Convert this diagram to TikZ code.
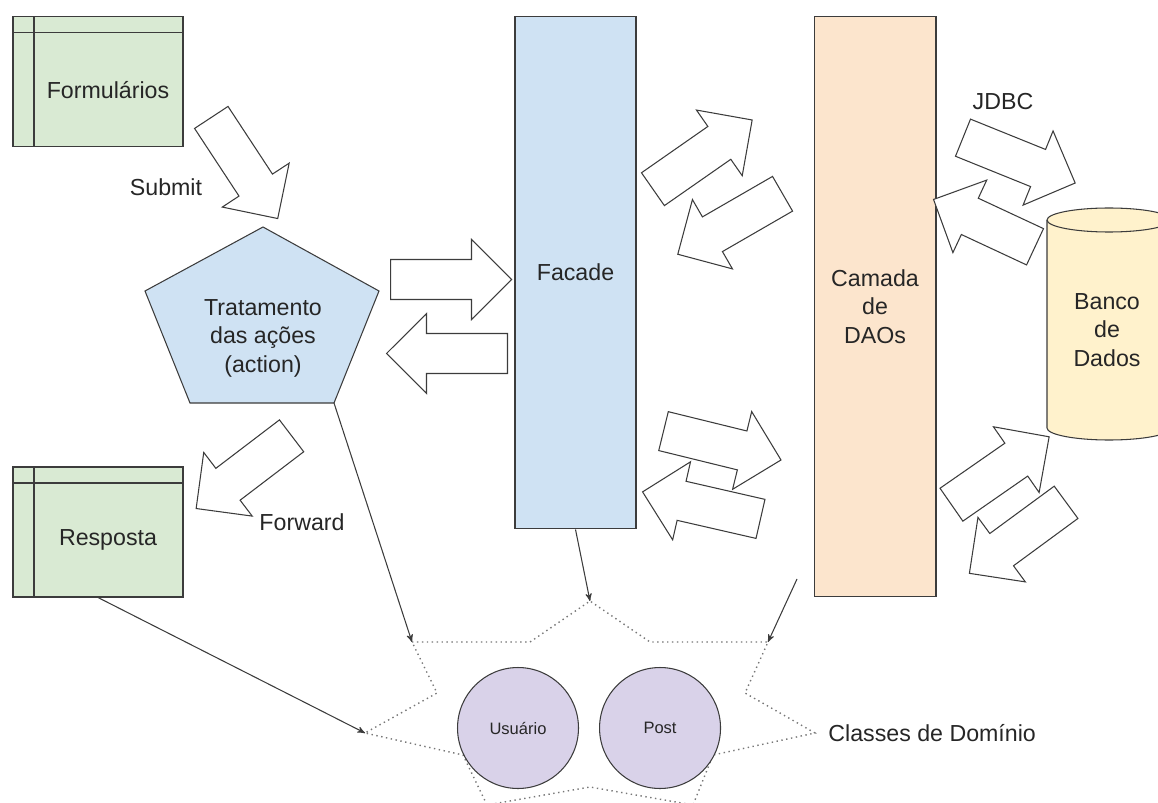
\documentclass[tikz,border=0pt]{standalone}
\usepackage{fontspec}
\setmainfont{Liberation Sans}
\usetikzlibrary{arrows,shapes.arrows,positioning}
\definecolor{linecol}{HTML}{3C3C3C}
\definecolor{formgreen}{HTML}{D9EAD3}
\definecolor{layerblue}{HTML}{CFE2F3}
\definecolor{layerorange}{HTML}{FCE5CD}
\definecolor{dbyellow}{HTML}{FFF2CC}
\definecolor{classpurple}{HTML}{D9D2E9}
\begin{document}
\begin{tikzpicture}[x=0.02cm,y=-0.02cm,>=stealth',line width=0.6pt,
  every node/.style={font=\fontsize{13.2}{16.2}\selectfont,text=black!85},
  form node/.style={rectangle,draw=linecol,fill=formgreen,minimum width=3.4cm,minimum height=2.6cm,inner sep=0pt,
    path picture={\draw[linecol] ([xshift=0.42cm]path picture bounding box.north west) -- ([xshift=0.42cm]path picture bounding box.south west)
      ([yshift=-0.32cm]path picture bounding box.north west) -- ([yshift=-0.32cm]path picture bounding box.north east);}},
  layer node/.style={rectangle,draw=linecol,inner sep=0pt,align=center},
  flow arrow/.style={single arrow,anchor=tail,draw=linecol,fill=white,minimum height=2.42cm,inner xsep=0pt,inner ysep=0.39cm,
    single arrow head extend=0.4cm,text height=0pt,text depth=0pt},
  class node/.style={circle,draw=linecol,fill=classpurple,minimum size=2.42cm,inner sep=0pt,font=\fontsize{9.4}{11}\selectfont},
  domain line/.style={->,draw=linecol}]
  \useasboundingbox (0,0) rectangle (1158,803);
  \clip (0,0) rectangle (1158,803);

  \node[form node,label={[xshift=0.2cm,yshift=-0.18cm]center:Formulários}] (formularios) at (98,81.5) {};
  \node[form node,label={[xshift=0.2cm,yshift=-0.16cm]center:Resposta}] (resposta) at (98,532) {};

  \draw[draw=linecol,fill=layerblue] (263,227) coordinate (ptop) -- (379,291) -- (334,403) coordinate (pfoot)
    -- (190,403) -- (145,291) -- cycle;
  \node[align=center] (acao) at (263,338) {Tratamento\\das ações\\(action)};

  \node[layer node,fill=layerblue,minimum width=2.42cm,minimum height=10.26cm] (facade) at (575.5,272.5) {Facade};
  \node[layer node,fill=layerorange,minimum width=2.44cm,minimum height=11.62cm] (dao) at (875,306.5) {Camada\\de\\DAOs};

  \draw[draw=linecol,fill=dbyellow] (1047,220) -- (1047,428) arc[start angle=180,end angle=0,x radius=62,y radius=12]
    -- (1171,220) arc[start angle=0,end angle=-180,x radius=62,y radius=12] -- cycle;
  \draw[draw=linecol] (1047,220) arc[start angle=180,end angle=0,x radius=62,y radius=12];
  \node[align=center] (banco) at (1107,330) {Banco\\de\\Dados};

  \node[flow arrow,rotate=-56.7] (submit) at (211,117) {};
  \node[flow arrow] (acaofacade) at (390,279.5) {};
  \node[flow arrow,rotate=180] (facadeacao) at (508,353.5) {};
  \node[flow arrow,rotate=-142.7,minimum height=2.4cm] (forward) at (292,435.5) {};
  \node[flow arrow,rotate=34.9] (facadedao1) at (652.5,189.5) {};
  \node[flow arrow,rotate=210] (daofacade1) at (783,193.5) {};
  \node[flow arrow,rotate=-22] (jdbc) at (962.5,137.5) {};
  \node[flow arrow,rotate=155,minimum height=2.24cm] (bancodao1) at (1035.5,247) {};
  \node[flow arrow,rotate=-13.8] (facadedao2) at (663,431) {};
  \node[flow arrow,rotate=167.1] (daofacade2) at (761,519) {};
  \node[flow arrow,rotate=34.8,minimum height=2.38cm] (daobanco2) at (951,505) {};
  \node[flow arrow,rotate=216.3,minimum height=2.4cm] (bancodao2) at (1066.5,502) {};

  \node (submitlbl) at (166,187) {Submit};
  \node (forwardlbl) at (302,522) {Forward};
  \node (jdbclbl) at (1003,102) {JDBC};

  \draw[linecol!70,dotted,line width=0.8pt] (412,642) coordinate (sA) -- (530,642) -- (590,601) coordinate (sC)
    -- (650,642) -- (768,642) coordinate (sE) -- (745,693) -- (815,733) coordinate (sG) -- (713,755) -- (693,805)
    -- (590,787) -- (487,805) -- (463,755) -- (365,733) coordinate (sM) -- (437,693) -- cycle;
  \node[class node] (usuario) at (518,728) {Usuário};
  \node[class node,right=0.4cm of usuario] (post) {Post};
  \node[anchor=west] (classes) at (822,733) {Classes de Domínio};

  \coordinate (daofoot) at (797,579);
  \path (pfoot) edge[domain line] (sA)
    (facade.south) edge[domain line] (sC)
    (daofoot) edge[domain line] (sE)
    (resposta.south) edge[domain line] (sM);
\end{tikzpicture}
\end{document}
